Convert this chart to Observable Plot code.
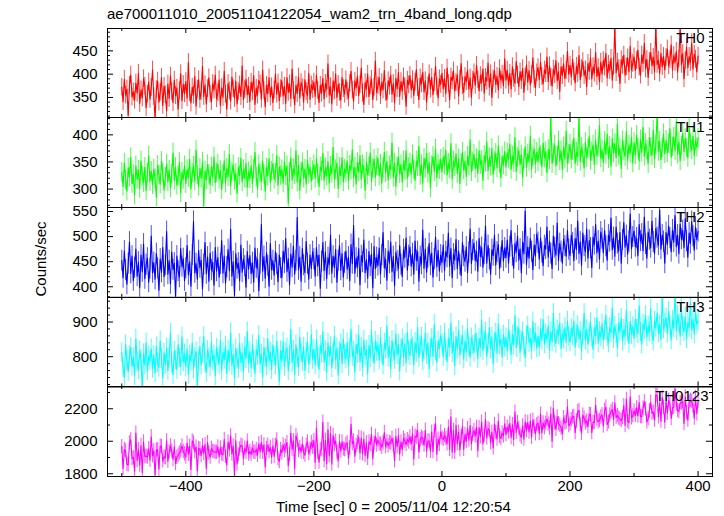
<!DOCTYPE html>
<html><head><meta charset="utf-8">
<script src="https://cdn.jsdelivr.net/npm/d3@7"></script>
<script src="https://cdn.jsdelivr.net/npm/@observablehq/plot@0.6"></script>
<style>
body{margin:0;background:#fff;font-family:"Liberation Sans",Arial,sans-serif;}
#chart{position:relative;width:724px;height:516px;overflow:hidden;background:#fff;}
.lbl{position:absolute;font-size:15px;line-height:18px;white-space:nowrap;color:#000;}
.panel{position:absolute;left:0;}
#warn{position:absolute;left:300px;top:250px;color:red;font-size:12px;}
</style></head><body>
<div id="chart">
<div class="lbl" style="left:107px;top:5px">ae700011010_20051104122054_wam2_trn_4band_long.qdp</div>
<div class="lbl" style="left:41px;top:259px;transform:translate(-50%,-50%) rotate(-90deg)">Counts/sec</div>
<div class="lbl" style="left:276px;top:498px">Time [sec] 0 = 2005/11/04 12:20:54</div>
</div>
<script>
// time grid of the light curve (seconds from 2005/11/04 12:20:54)
const tStart = -500, tStep = 2;

const th0 = [
372,341,389,355,368,312,376,398,351,362,344,381,359,402,337,366,349,390,374,328,357,383,346,371,409,
352,305,367,385,340,361,393,333,374,356,321,379,348,396,362,339,387,354,370,325,364,401,343,378,358,
384,349,425,360,338,372,355,395,331,368,388,346,363,417,352,377,336,369,392,357,341,380,366,398,347,
360,388,333,371,350,406,357,325,380,364,342,394,369,348,385,336,363,377,352,418,345,367,389,356,374,
341,383,362,397,335,370,355,387,379,346,409,364,330,376,358,392,351,373,339,366,400,357,381,343,369,
386,353,374,337,393,361,379,348,411,365,334,376,358,394,349,382,371,340,388,363,355,402,346,377,367,
383,352,398,365,339,376,359,391,347,380,368,422,355,373,336,386,364,401,350,378,361,344,393,369,357,
388,363,349,380,406,366,342,385,371,396,354,377,413,359,335,382,368,400,352,375,389,345,372,428,361,
375,393,354,382,366,408,361,345,386,374,398,357,380,338,391,369,404,352,384,363,394,373,331,387,377,
397,366,388,354,383,410,371,345,392,379,404,362,386,340,375,401,368,393,356,382,417,373,349,390,378,
402,369,391,358,413,380,345,394,386,407,364,382,398,353,389,423,375,361,395,384,409,368,392,350,387,
403,376,419,388,364,397,381,411,359,393,385,424,372,401,350,390,407,378,395,366,412,387,400,375,433,
387,409,376,402,368,416,391,380,427,398,373,405,386,412,361,394,420,383,408,377,399,435,389,371,403,
414,388,426,395,379,409,401,437,384,418,393,374,411,399,429,386,405,363,416,397,422,391,408,449,400,
419,394,432,405,381,417,401,440,388,412,427,397,409,373,423,406,435,390,416,402,447,395,414,384,426,
400,429,415,445,392,421,408,434,387,417,503,403,426,412,380,431,419,441,398,416,435,405,460,409,423,
437,408,429,452,415,398,441,423,466,411,432,393,427,447,418,436,405,506,421,430,402,445,416,438,409,
436,454,418,431,463,409,440,425,449,404,433,501,421,444,390,429,458,414,438,425,467,411,443,432,405,439
];

const th1 = [
331,305,348,317,296,339,322,358,310,327,289,343,318,335,301,352,324,312,340,297,329,361,314,333,308,
337,319,285,344,326,309,351,330,298,322,346,313,335,302,328,367,316,340,307,324,349,293,331,318,343,
310,336,321,355,300,329,342,315,372,326,305,338,320,350,270,333,317,345,327,308,341,322,359,312,330,
346,318,334,299,327,352,311,338,323,364,306,331,345,316,329,292,340,325,357,313,336,320,348,303,332,
319,343,310,337,368,322,301,345,330,314,351,327,296,339,324,356,312,333,347,318,329,362,307,341,325,
336,311,350,324,343,274,331,358,317,338,326,371,313,344,298,332,349,320,337,309,353,327,340,315,334,
345,320,356,328,305,341,333,366,316,339,324,351,311,342,329,377,318,336,348,301,340,325,358,313,337,
329,352,316,344,335,373,321,340,309,349,331,362,318,345,337,298,350,326,341,367,314,338,355,322,343,
357,324,346,311,339,368,330,351,317,343,336,385,322,348,305,341,359,328,345,313,352,334,371,320,340,
348,327,363,336,316,352,341,379,325,345,311,357,338,366,329,349,302,343,360,332,374,321,346,336,355,
331,359,344,372,326,348,337,384,318,352,341,365,329,356,310,347,368,335,351,323,361,343,391,332,350,
364,338,356,329,371,345,353,316,362,349,387,334,358,342,375,327,351,366,339,380,347,321,360,344,369,
341,367,355,383,336,361,349,395,332,358,371,345,363,322,356,378,340,365,351,398,337,360,374,346,368,
350,376,362,341,385,357,369,330,373,354,436,347,366,381,343,360,389,352,371,336,378,356,407,348,364,
383,355,371,394,347,368,360,433,351,377,365,339,386,358,374,398,353,369,381,345,391,362,376,417,357,
372,349,388,364,401,356,379,342,393,367,384,358,420,362,375,338,389,371,360,406,353,381,366,395,348,
386,363,399,375,352,391,368,414,360,384,372,347,395,377,362,409,356,381,438,369,388,354,376,402,365,
390,367,383,411,359,378,396,371,425,364,387,352,380,403,369,393,376,358,412,385,372,398,361,389,377,394
];

const th2 = [
452,418,471,433,405,446,489,427,461,412,438,475,421,449,398,463,430,485,416,444,457,409,436,501,428,
448,415,466,437,393,455,429,478,420,443,510,425,452,406,469,434,447,378,461,431,419,476,440,456,412,
437,482,424,450,401,463,530,428,446,415,472,438,453,396,444,488,426,459,411,467,433,449,403,478,431,
458,419,445,492,427,461,407,439,474,432,515,421,450,382,466,436,447,412,483,429,455,441,399,470,435,
462,426,448,409,477,438,455,392,446,524,431,460,417,468,442,401,486,434,452,423,470,445,410,463,437,
418,471,447,496,430,456,404,465,439,481,425,452,538,434,459,411,476,443,428,490,446,415,463,436,470,
455,421,478,441,463,397,450,488,432,469,416,458,444,503,427,461,438,474,409,452,482,433,466,419,448,
471,435,459,412,484,446,522,427,457,439,476,404,462,449,493,428,454,417,470,441,465,398,480,436,458,
442,477,425,463,508,438,455,413,471,447,489,430,460,402,468,451,436,482,444,420,474,458,497,433,462,
479,441,466,425,491,452,470,411,460,445,513,437,475,429,458,486,443,467,419,455,499,440,472,431,463,
448,483,432,470,459,507,441,476,418,465,453,494,436,471,444,422,488,461,450,479,428,468,515,446,473,
487,452,470,431,496,460,478,439,465,521,447,482,455,425,474,462,503,443,469,484,436,458,492,451,477,
458,493,447,480,512,462,437,486,469,501,453,475,428,489,466,551,444,479,457,496,470,434,483,461,505,
488,455,497,468,442,482,475,519,459,490,466,436,501,478,463,527,452,486,470,447,495,481,461,512,474,
462,503,487,452,496,474,531,466,489,443,507,481,470,515,457,492,477,438,499,484,524,468,491,455,509,
496,468,512,481,453,503,490,537,474,498,461,519,486,471,508,447,493,528,479,502,465,490,545,476,499,
511,480,497,462,524,491,505,472,539,485,457,509,494,478,531,489,466,516,498,483,553,475,503,490,447,
508,484,521,497,470,513,489,542,480,503,466,525,495,512,478,536,491,459,507,486,530,501,473,519,494,510
];

const th3 = [
812,768,741,835,789,757,803,826,772,798,745,851,784,762,817,793,705,809,776,840,759,801,787,823,766,
804,753,829,782,769,846,794,738,811,777,825,760,799,868,781,748,816,790,763,834,796,772,857,785,809,
771,822,749,805,787,839,764,798,815,708,791,829,776,810,858,782,754,819,797,770,842,788,806,745,824,
801,778,847,760,813,792,831,752,818,786,869,775,807,739,823,796,766,838,784,811,757,829,794,872,780,
815,768,836,790,752,820,803,861,779,809,741,827,798,773,852,787,814,762,834,800,776,845,793,728,818,
788,843,771,812,826,759,804,880,783,819,749,835,797,771,856,809,786,828,761,813,842,779,804,864,792,
821,776,849,797,764,833,810,872,785,818,755,840,801,829,768,812,859,791,826,747,815,838,780,851,806,
793,841,772,823,880,800,817,756,836,809,863,785,827,769,848,803,819,751,833,797,875,812,781,845,815,
834,790,856,807,776,840,821,889,798,829,765,847,813,792,866,805,836,758,823,852,799,837,781,870,816,
803,850,829,776,842,811,884,797,833,857,788,820,869,806,839,766,825,853,801,893,817,784,846,823,861,
839,800,868,817,786,852,827,897,811,843,774,858,822,876,804,835,861,793,846,813,881,828,798,855,834,
812,866,841,794,853,825,906,817,849,872,801,838,884,822,857,780,843,869,810,895,834,851,799,863,828,
855,817,879,846,806,864,833,918,826,859,883,812,847,872,830,797,861,889,840,854,819,901,843,868,825,
859,828,881,847,907,836,866,851,889,819,872,843,925,855,838,878,862,897,824,867,850,884,841,903,858,
842,881,859,903,828,866,890,851,874,817,862,925,847,879,836,870,899,856,821,884,861,912,839,873,857,
895,848,876,920,857,839,884,869,941,852,888,866,826,897,873,911,845,879,860,934,871,838,902,864,887,
853,908,881,866,947,872,836,895,878,919,857,889,871,938,862,846,903,884,926,868,892,850,975,880,897,
912,867,931,889,848,905,883,985,874,920,896,859,941,887,872,915,851,899,884,956,877,908,865,929,893,903
];

// TH0123 is the sum of the four bands
const th0123 = th0.map((v, i) => v + th1[i] + th2[i] + th3[i]);

const names = ["TH0", "TH1", "TH2", "TH3", "TH0123"];
const colors = ["#ff0000", "#00ff00", "#0000ff", "#00ffff", "#ff00ff"];
const errHalf = [19, 18, 21, 28, 44];   // half length of the y error bars (counts/sec)
const yDomains = [[307, 498], [266, 432], [379, 558], [712.7, 970.6], [1783, 2337]];
const yMajor = [[350, 400, 450], [300, 350, 400], [400, 450, 500, 550], [800, 900], [1800, 2000, 2200]];
const yMinorStep = [10, 10, 10, 20, 100];
const xMajor = [-400, -200, 0, 200, 400];
const xMinor = [-500, -300, -100, 100, 300];
const xDomain = [-522.3, 422.5];

const series = [th0, th1, th2, th3, th0123];
const frameEdges = [27.7, 116.7, 206.7, 296.5, 386, 476];
const W = 724, mL = 107, mR = 12, innerW = W - mL - mR;
const chart = document.getElementById("chart");

if (series.some(s => s.length !== 451)) {
  const w = document.createElement("div");
  w.id = "warn";
  w.textContent = "len: " + series.map(s => s.length).join(",");
  chart.appendChild(w);
}

series.forEach((vals, k) => {
  const last = k === series.length - 1;
  const fh = frameEdges[k + 1] - frameEdges[k];
  const mT = 10, mB = last ? 34 : 10;
  const e = errHalf[k];
  const data = vals.map((v, i) => ({t: tStart + i * tStep, v, lo: v - e, hi: v + e}));
  const [lo, hi] = yDomains[k];
  const st = yMinorStep[k];
  const yMin = d3.range(Math.ceil(lo / st) * st, hi, st).filter(v => !yMajor[k].includes(v));
  const marks = [
    Plot.ruleX(data, {x: "t", y1: "lo", y2: "hi", stroke: colors[k], strokeOpacity: 0.7, strokeWidth: 1, clip: true}),
    Plot.lineY(data, {x: "t", y: "v", stroke: colors[k], strokeWidth: 1.1, clip: true}),
    Plot.frame({stroke: "#000", strokeWidth: 1}),
    Plot.tickY(yMajor[k], {y: d => d, insetRight: innerW - 6, stroke: "#000"}),
    Plot.tickY(yMajor[k], {y: d => d, insetLeft: innerW - 6, stroke: "#000"}),
    Plot.tickY(yMin, {y: d => d, insetRight: innerW - 3, stroke: "#000"}),
    Plot.tickY(yMin, {y: d => d, insetLeft: innerW - 3, stroke: "#000"}),
    Plot.tickX(xMajor, {x: d => d, insetTop: fh - 5, stroke: "#000"}),
    Plot.tickX(xMajor, {x: d => d, insetBottom: fh - 5, stroke: "#000"}),
    Plot.tickX(xMinor, {x: d => d, insetTop: fh - 3, stroke: "#000"}),
    Plot.tickX(xMinor, {x: d => d, insetBottom: fh - 3, stroke: "#000"}),
    Plot.axisY(yMajor[k], {tickSize: 0, tickPadding: 10, tickFormat: d => String(d), label: null, fill: "#000"}),
    Plot.text([names[k]], {text: d => d, frameAnchor: "top-right", textAnchor: "end", lineAnchor: "top",
      dx: last ? -4 : -8, dy: 4, fontSize: 15, fill: "#000"})
  ];
  if (last) marks.push(Plot.axisX(xMajor, {tickSize: 0, tickPadding: 4, label: null, fill: "#000"}));
  const svg = Plot.plot({
    width: W,
    height: fh + mT + mB,
    marginLeft: mL, marginRight: mR, marginTop: mT, marginBottom: mB,
    x: last ? {domain: xDomain} : {domain: xDomain, axis: null},
    y: {domain: yDomains[k]},
    style: {fontSize: "15px", fontFamily: "'Liberation Sans', Arial, sans-serif", background: "transparent", overflow: "visible", color: "#000"},
    marks
  });
  svg.classList.add("panel");
  svg.style.top = (frameEdges[k] - mT) + "px";
  svg.style.position = "absolute";
  svg.style.left = "0px";
  chart.appendChild(svg);
});
</script>
</body></html>
